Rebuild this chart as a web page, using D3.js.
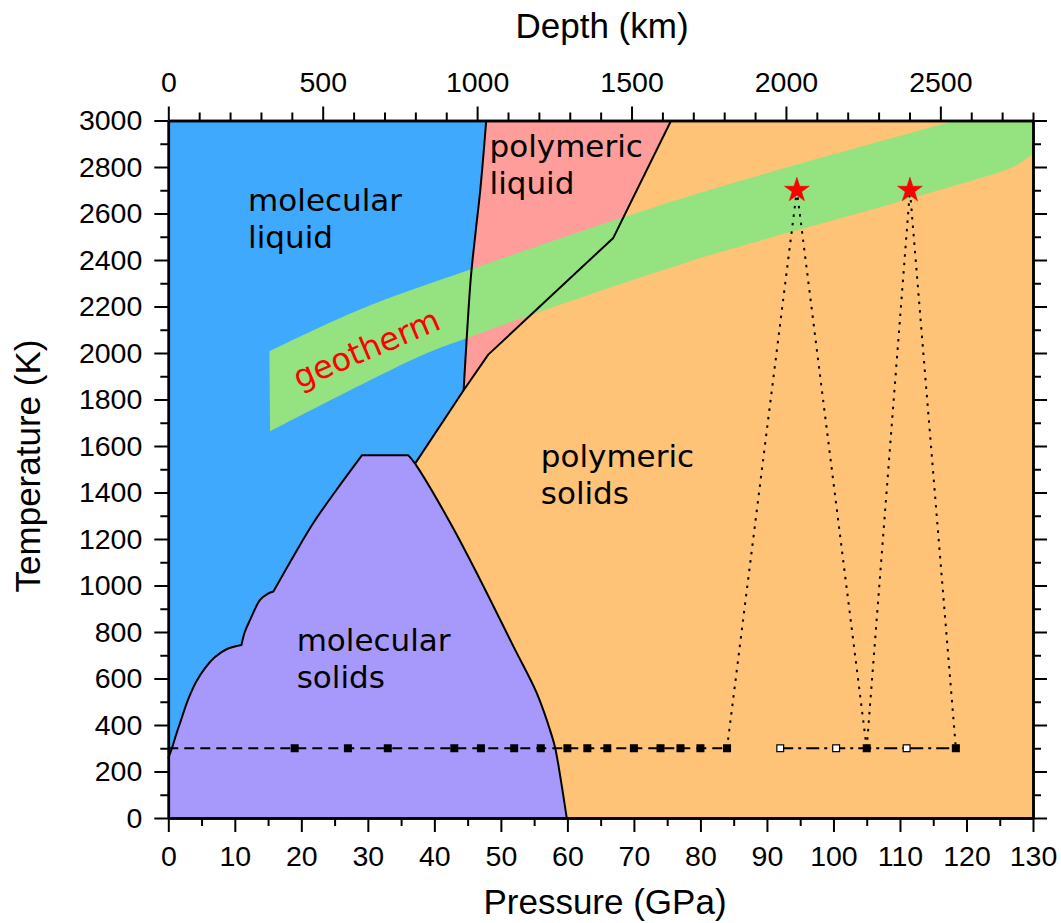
<!DOCTYPE html>
<html>
<head>
<meta charset="utf-8">
<script src="https://cdn.jsdelivr.net/npm/d3@7"></script>
<style>
  body { margin: 0; background: #fff; }
</style>
</head>
<body>
<div id="vis"></div>
<script>
/********************************************************************
Datos: límites de fase (presión en GPa, temperatura en K)
*********************************************************************/

// molecular liquid / polymeric liquid
const limiteLiquidos = [[44.4, 1840], [44.9, 2080], [45.5, 2330], [46.2, 2520], [46.9, 2700], [47.8, 3000]];
// liquido/solido polimerico (desde el punto triple bajo)
const limitePolimerico = [[37.1, 1524], [44.4, 1840], [48.1, 1993], [66.9, 2495], [75.6, 3000]];

// borde de molecular solids, por tramos
const solidoTramo1 = [[0, 257], [0.56, 301], [1.16, 357], [1.91, 421], [2.96, 508], [4.17, 585], [5.52, 645],
  [7.02, 692], [8.82, 727], [11.0, 744]];
const solidoTramo2 = [[11.0, 744], [11.5, 800], [12.3, 852], [13.8, 938], [15.0, 965], [15.8, 974]];
const solidoTramo3 = [[15.8, 974], [18.8, 1125], [21.8, 1269], [25.3, 1412], [29.1, 1560]];
const solidoTecho = [[29.1, 1560], [36.1, 1560]];
const solidoDerecho = [[36.1, 1560], [37.1, 1524], [42.4, 1269], [46.9, 1024], [51.9, 737], [55.4, 537],
  [57.7, 350], [58.2, 297], [59.9, 0]];

// banda de la geoterma
const geotermaSup = [[15.2, 2007], [28.8, 2187], [45.4, 2359], [78.5, 2676], [117.1, 2990], [118.3, 3000]];
const geotermaInf = [[130, 2856], [128.8, 2832], [127.1, 2801], [110.1, 2653], [78.5, 2395], [44.9, 2065], [37.8, 1986], [15.3, 1663]];

// experimentos a 300 K
const presionesLlenas = [19, 27, 33, 43, 47, 52, 56, 60, 63, 66, 70, 74, 77, 80, 84];
const presionesSegunda = [92, 100.4, 105, 111, 118.4];
const segundaAbiertos = [true, true, false, true, false];
const tempAmbiente = 300;

// calentamiento laser (estrellas) y sus caminos
const estrellas = [[94.5, 2700], [111.5, 2700]];
const caminos = [
  [[84, 300], [94.5, 2700], [105, 300]],
  [[105, 300], [111.5, 2700], [118.4, 300]]
];

// ticks
const ticksPresion = d3.range(0, 131, 10);
const ticksPresionMenor = d3.range(5, 130, 10);
const ticksTemp = d3.range(0, 3001, 200);
const ticksTempMenor = d3.range(100, 3000, 200);
const ticksProf = [0, 500, 1000, 1500, 2000, 2500];
const ticksProfMenor = d3.range(100, 2801, 100).filter(d => d % 500 !== 0);

// etiquetas de regiones
const etiquetas = [
  { lineas: ["molecular", "liquid"], p: 12.0, t: 2610 },
  { lineas: ["polymeric", "liquid"], p: 48.3, t: 2845 },
  { lineas: ["polymeric", "solids"], p: 56.0, t: 1510 },
  { lineas: ["molecular", "solids"], p: 19.3, t: 720 }
];

/********************************************************************
Constantes de tamaño y escalas
*********************************************************************/
const WIDTH = 1061;
const HEIGHT = 923;
const X0 = 168.3, X1 = 1033, Y0 = 818, Y1 = 120.5;

const x = d3.scaleLinear().domain([0, 130]).range([X0, X1]);
const y = d3.scaleLinear().domain([0, 3000]).range([Y0, Y1]);
const xProf = d3.scaleLinear().domain([0, 2800]).range([X0, X1]);

const recto = d3.line().x(d => x(d[0])).y(d => y(d[1]));
const curvo = d3.line().x(d => x(d[0])).y(d => y(d[1])).curve(d3.curveCatmullRom.alpha(0.5));

// Une varios tramos en un solo path (los siguientes siguen con L en vez de M)
function unir(paths) {
  return paths.map((p, i) => i === 0 ? p : p.replace(/^M/, "L")).join("");
}

const FUENTE_EJE = "'Liberation Sans', Arial, sans-serif";
const FUENTE_REGION = "'DejaVu Sans', Verdana, sans-serif";

/********************************************************************
Dibujo
*********************************************************************/
const svg = d3.select("#vis").append("svg")
  .attr("width", WIDTH)
  .attr("height", HEIGHT);

// fondo: molecular liquid
svg.append("rect")
  .attr("x", X0).attr("y", Y1)
  .attr("width", X1 - X0).attr("height", Y0 - Y1)
  .attr("fill", "#3fa9fd");

// polymeric liquid
const liquidoPoli = unir([
  curvo(limiteLiquidos),
  recto([[47.8, 3000]].concat(limitePolimerico.slice(1).reverse()))
]) + "Z";
svg.append("path").attr("d", liquidoPoli).attr("fill", "#fe9d99");

// polymeric solids
const solidoPoli = unir([
  recto(limitePolimerico.concat([[130, 3000], [130, 0], [59.9, 0]])),
  curvo(solidoDerecho.slice(1).reverse())
]) + "Z";
svg.append("path").attr("d", solidoPoli).attr("fill", "#fec377");

// molecular solids
const bordeSolido = unir([
  curvo(solidoTramo1), curvo(solidoTramo2), curvo(solidoTramo3),
  recto(solidoTecho), curvo(solidoDerecho)
]);
svg.append("path")
  .attr("d", bordeSolido + recto([[59.9, 0], [0, 0]]).replace(/^M/, "L") + "Z")
  .attr("fill", "#a799fc");

// geoterma
const banda = unir([
  curvo(geotermaSup),
  recto([[118.3, 3000], [130, 3000], [130, 2856]]),
  curvo(geotermaInf)
]) + "Z";
svg.append("path").attr("d", banda).attr("fill", "#95e281");

// lineas de los limites
[curvo(limiteLiquidos), recto(limitePolimerico), bordeSolido].forEach(d => {
  svg.append("path")
    .attr("d", d)
    .attr("fill", "none")
    .attr("stroke", "#000")
    .attr("stroke-width", 2)
    .attr("stroke-linejoin", "round");
});

// caminos punteados de las estrellas
caminos.forEach(c => {
  svg.append("path")
    .attr("d", recto(c))
    .attr("fill", "none")
    .attr("stroke", "#000")
    .attr("stroke-width", 2)
    .attr("stroke-dasharray", "2.5,6");
});

// linea a 300 K (segmentada)
svg.append("path")
  .attr("d", recto([[0, tempAmbiente], [d3.max(presionesLlenas), tempAmbiente]]))
  .attr("stroke", "#000").attr("stroke-width", 2)
  .attr("stroke-dasharray", "10,6");

svg.append("path")
  .attr("d", recto([[d3.min(presionesSegunda), tempAmbiente], [d3.max(presionesSegunda), tempAmbiente]]))
  .attr("stroke", "#000").attr("stroke-width", 2)
  .attr("stroke-dasharray", "13,5,3,5");

const lado = 8;
svg.append("g").selectAll("rect")
  .data(presionesLlenas)
  .enter()
  .append("rect")
  .attr("x", d => x(d) - lado / 2)
  .attr("y", y(tempAmbiente) - lado / 2)
  .attr("width", lado).attr("height", lado)
  .attr("fill", "#000");

svg.append("g").selectAll("rect")
  .data(presionesSegunda)
  .enter()
  .append("rect")
  .attr("x", d => x(d) - lado / 2 + 0.6)
  .attr("y", y(tempAmbiente) - lado / 2 + 0.6)
  .attr("width", lado - 1.2).attr("height", lado - 1.2)
  .attr("fill", (d, i) => segundaAbiertos[i] ? "#fff" : "#000")
  .attr("stroke", "#000")
  .attr("stroke-width", 1.2);

// estrellas
svg.append("g").selectAll("path")
  .data(estrellas)
  .enter()
  .append("path")
  .attr("d", d3.symbol(d3.symbolStar, 190))
  .attr("transform", d => `translate(${x(d[0])},${y(d[1])})`)
  .attr("fill", "#ff0000")
  .attr("stroke", "#e00000")
  .attr("stroke-width", 0.5);

// etiquetas de regiones
etiquetas.forEach(e => {
  const t = svg.append("text")
    .attr("x", x(e.p))
    .attr("y", y(e.t))
    .attr("font-family", FUENTE_REGION)
    .attr("font-size", 31)
    .attr("fill", "#000");
  e.lineas.forEach((l, i) => {
    t.append("tspan").attr("x", x(e.p)).attr("dy", i === 0 ? 0 : 37).text(l);
  });
});

svg.append("text")
  .attr("transform", `translate(367,350) rotate(-23)`)
  .attr("text-anchor", "middle")
  .attr("dy", "0.3em")
  .attr("font-family", FUENTE_REGION)
  .attr("font-size", 32)
  .attr("fill", "#ff0000")
  .text("geotherm");

/********************************************************************
Ejes
*********************************************************************/
const formato = d3.format("d");

function estiloEje(g) {
  g.attr("font-family", FUENTE_EJE).attr("font-size", 28.5);
  g.select(".domain").attr("stroke-width", 2.5);
  g.selectAll(".tick line").attr("stroke-width", 2);
  g.selectAll(".tick text").attr("fill", "#000");
}

// inferior
svg.append("g").attr("transform", `translate(0,${Y0})`)
  .call(d3.axisBottom(x).tickValues(ticksPresionMenor).tickFormat("").tickSize(8).tickSizeOuter(0))
  .call(estiloEje);
svg.append("g").attr("transform", `translate(0,${Y0})`)
  .call(d3.axisBottom(x).tickValues(ticksPresion).tickFormat(formato).tickSize(14).tickPadding(14).tickSizeOuter(0))
  .call(estiloEje);

// izquierdo
svg.append("g").attr("transform", `translate(${X0},0)`)
  .call(d3.axisLeft(y).tickValues(ticksTempMenor).tickFormat("").tickSize(8).tickSizeOuter(0))
  .call(estiloEje);
svg.append("g").attr("transform", `translate(${X0},0)`)
  .call(d3.axisLeft(y).tickValues(ticksTemp).tickFormat(formato).tickSize(14).tickPadding(12).tickSizeOuter(0))
  .call(estiloEje);

// derecho (sin etiquetas)
svg.append("g").attr("transform", `translate(${X1},0)`)
  .call(d3.axisRight(y).tickValues(ticksTempMenor).tickFormat("").tickSize(8).tickSizeOuter(0))
  .call(estiloEje);
svg.append("g").attr("transform", `translate(${X1},0)`)
  .call(d3.axisRight(y).tickValues(ticksTemp).tickFormat("").tickSize(14).tickSizeOuter(0))
  .call(estiloEje);

// superior: profundidad
svg.append("g").attr("transform", `translate(0,${Y1})`)
  .call(d3.axisTop(xProf).tickValues(ticksProfMenor).tickFormat("").tickSize(8).tickSizeOuter(0))
  .call(estiloEje);
svg.append("g").attr("transform", `translate(0,${Y1})`)
  .call(d3.axisTop(xProf).tickValues(ticksProf).tickFormat(formato).tickSize(14).tickPadding(15).tickSizeOuter(0))
  .call(estiloEje);

// titulos de ejes
svg.append("text")
  .attr("x", 602).attr("y", 38)
  .attr("text-anchor", "middle")
  .attr("font-family", FUENTE_EJE).attr("font-size", 35)
  .text("Depth (km)");

svg.append("text")
  .attr("x", 605).attr("y", 914)
  .attr("text-anchor", "middle")
  .attr("font-family", FUENTE_EJE).attr("font-size", 35)
  .text("Pressure (GPa)");

svg.append("text")
  .attr("transform", "translate(40,466) rotate(-90)")
  .attr("text-anchor", "middle")
  .attr("font-family", FUENTE_EJE).attr("font-size", 35)
  .text("Temperature (K)");
</script>
</body>
</html>
